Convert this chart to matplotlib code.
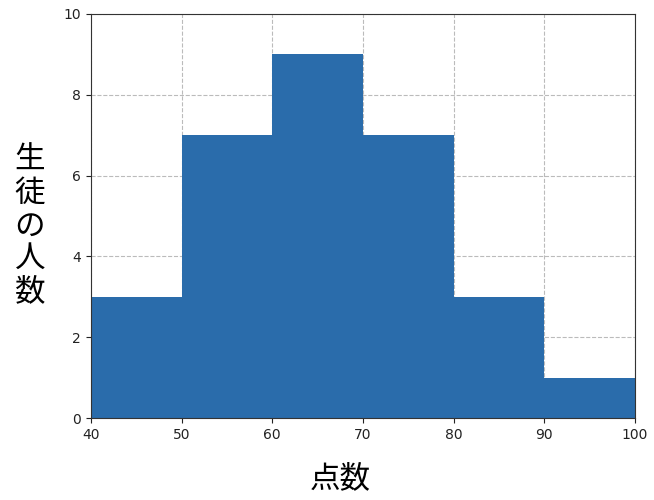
import matplotlib
matplotlib.use("Agg")
import matplotlib.pyplot as plt

plt.rcParams['font.family'] = ['Noto Sans CJK JP', 'DejaVu Sans']

bin_edges = [40, 50, 60, 70, 80, 90, 100]
counts = [3, 7, 9, 7, 3, 1]
bar_color = "#2a6cab"

fig = plt.figure(figsize=(6.54, 5.0), dpi=100)
ax = fig.add_axes([0.139, 0.164, 0.832, 0.808])

ax.set_axisbelow(True)
ax.grid(True, linestyle="--", color="#bbbbbb", linewidth=0.8)
ax.hist(bin_edges[:-1], bins=bin_edges, weights=counts, color=bar_color)

ax.set_xlim(40, 100)
ax.set_ylim(0, 10)
ax.set_xticks(range(40, 101, 10))
ax.set_yticks(range(0, 11, 2))
ax.tick_params(labelsize=10, colors="#222222")
for s in ax.spines.values():
    s.set_color("#333333")

for lbl in ax.get_xticklabels() + ax.get_yticklabels():
    lbl.set_family("DejaVu Sans")

ax.set_xlabel("点数", fontsize=22)
ax.xaxis.set_label_coords(0.458, -0.112, transform=ax.transAxes)
ax.set_ylabel("生\n徒\nの\n人\n数", fontsize=22, rotation=0, va="center",
              linespacing=1.07)
ax.yaxis.set_label_coords(-0.112, 0.475, transform=ax.transAxes)

fig.savefig("out.png", dpi=100)
